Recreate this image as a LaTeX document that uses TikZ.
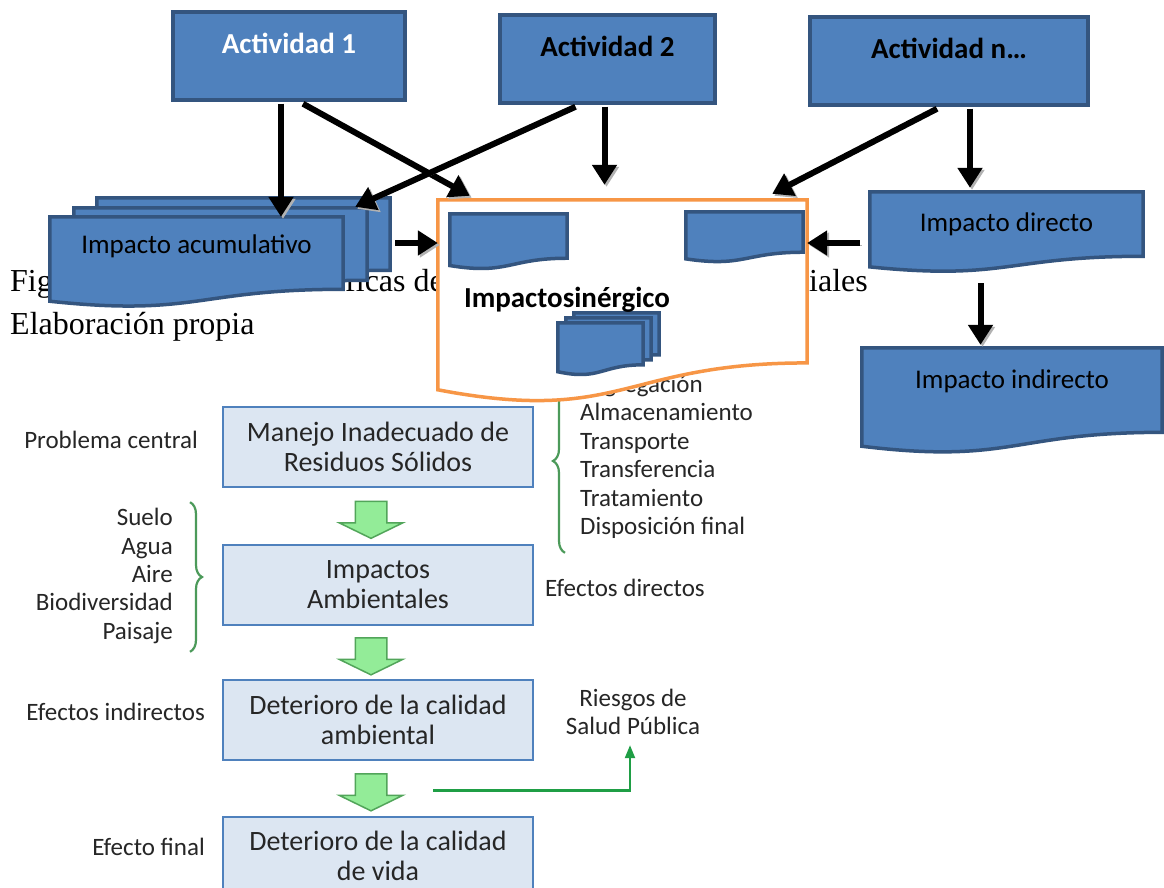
\documentclass[tikz,border=0pt]{standalone}
\usepackage{fontspec}
\setmainfont{Carlito}
\newfontfamily\capserif{Liberation Serif}
\usetikzlibrary{
  arrows.meta,
  positioning,
  calc,
  shapes.arrows,
  decorations.pathreplacing
}
\pgfdeclarelayer{bottom}
\pgfdeclarelayer{background}
\pgfsetlayers{bottom,background,main}
\definecolor{docblue}{HTML}{4F81BD}
\definecolor{docline}{HTML}{34557F}
\definecolor{synorange}{HTML}{F79646}
\definecolor{flowfill}{HTML}{DCE6F2}
\definecolor{flowline}{HTML}{4F81BD}
\definecolor{arrowgreen}{HTML}{93EC98}
\definecolor{arrowedge}{HTML}{52A55A}
\definecolor{bracegreen}{HTML}{4C9A5A}
\definecolor{riskgreen}{HTML}{1F9E45}
\definecolor{flowtext}{HTML}{262626}
\newcommand{\fsz}[2]{\fontsize{#1}{#2}\selectfont}
% wavy-bottom document outline drawn behind a node
\newcommand{\wavedoc}[2]{%
  \begin{pgfonlayer}{background}
  \draw[#1] (#2.north west) -- (#2.north east)
    -- ($(#2.south east)!0.198!(#2.north east)$)
    .. controls ($(#2.south)!0.198!(#2.north)$) and ($(#2.south)!-0.107!(#2.north)$)
    .. ($(#2.south west)!0.066!(#2.north west)$) -- cycle;
  \end{pgfonlayer}}

\begin{document}
\begin{tikzpicture}[
  x=1pt, y=-1pt,
  actbox/.style={draw=docline, line width=3.5pt, fill=docblue, minimum width=#1,
    inner sep=0pt, text height=42pt, text depth=46pt, font=\fsz{29}{34}\bfseries},
  docbox/.style={inner sep=0pt, minimum width=#1, font=\fsz{27}{32}},
  docfill/.style={draw=docline, line width=3.5pt, fill=docblue},
  synline/.style={draw=synorange, line width=3.5pt, fill=white},
  blkarrow/.style={line width=6pt, -{Triangle[length=20pt,width=24pt]},
    preaction={draw=black!30, transform canvas={xshift=2pt,yshift=-2pt}}},
  flowbox/.style={draw=flowline, line width=2pt, fill=flowfill, minimum width=310pt,
    minimum height=80pt, align=center, text=flowtext, font=\fsz{28}{30}},
  fatarrow/.style={single arrow, draw=arrowedge, fill=arrowgreen, line width=1.5pt,
    rotate=-90, minimum height=37pt, inner xsep=0pt, inner ysep=15pt,
    single arrow head extend=16pt, single arrow tip angle=128},
  flowlbl/.style={text=flowtext, inner sep=0pt, font=\fsz{25}{28.4}},
  bracestyle/.style={draw=bracegreen, line width=2.2pt, decorate,
    decoration={brace, amplitude=12pt}},
  riskarrow/.style={draw=riskgreen, line width=2.2pt, -{Triangle[length=13pt,width=10pt]}},
  caplbl/.style={anchor=base west, inner sep=0pt, font=\capserif\fsz{32}{36}},
]
  \useasboundingbox (0,0) rectangle (1164,888);

  \begin{pgfonlayer}{bottom}
  \fill[white] (0,0) rectangle (1164,888);

  % Caption behind the diagram
  \node[caplbl] (capfig) at (10,291) {Fig};
  \node[caplbl] (capmid) at (345,291) {ficas de};
  \node[caplbl] (capend) at (809,291) {iales};
  \node[caplbl] (capsrc) at (10,334) {Elaboración propia};

  % Problem tree
  \node[flowbox] (mrs) at (378,447) {Manejo Inadecuado de\\Residuos Sólidos};
  \node[flowbox, below=56pt of mrs] (ia) {Impactos\\Ambientales};
  \node[flowbox, below=53pt of ia] (dca) {Deterioro de la calidad\\ambiental};
  \node[flowbox, below=55pt of dca, minimum height=78pt] (dcv) {Deterioro de la calidad\\de vida};

  \node[fatarrow] (fa1) at ([xshift=-7pt]$(mrs.south)!0.5!(ia.north)$) {};
  \node[fatarrow] (fa2) at ([xshift=-7pt]$(ia.south)!0.5!(dca.north)$) {};
  \node[fatarrow] (fa3) at ([xshift=-7pt]$(dca.south)!0.5!(dcv.north)$) {};

  \node[flowlbl, anchor=east] (pc) at (198,440) {Problema central};
  \node[flowlbl, align=right, anchor=east] (media) at (173,576)
    {Suelo\\Agua\\Aire\\Biodiversidad\\Paisaje};
  \draw[bracestyle] ([xshift=17pt,yshift=6pt]media.north east)
    -- ([xshift=17pt,yshift=-8pt]media.south east);
  \node[flowlbl, align=left, anchor=west] (steps) at (580,457)
    {Segregación\\Almacenamiento\\Transporte\\Transferencia\\Tratamiento\\Disposición final};
  \draw[bracestyle] ([xshift=-15pt,yshift=-14pt]steps.south west)
    -- ([xshift=-15pt,yshift=6pt]steps.north west);

  \node[flowlbl, anchor=east] (efind) at (205,712) {Efectos indirectos};
  \node[flowlbl, anchor=east] (effin) at (205,847) {Efecto final};
  \node[flowlbl, anchor=west] (efdir) at (545,588) {Efectos directos};
  \node[flowlbl, align=center] (risk) at (633,712) {Riesgos de\\Salud Pública};
  \draw[riskarrow] ([xshift=62pt,yshift=-2pt]fa3.center) -| ([xshift=-3pt,yshift=-10pt]risk.south);
  \end{pgfonlayer}

  % Activities
  \node[actbox=232pt, text=white] (act1) at (289,56) {Actividad 1};
  \node[actbox=215pt, text=black] (act2) at (607.5,59) {Actividad 2};
  \node[actbox=278pt, text=black] (actn) at (949,61) {Actividad n…};

  % Cumulative impact (stacked)
  \node[docbox=293pt, minimum height=90pt] (acc3) at (243.5,243) {};
  \wavedoc{docfill}{acc3}
  \node[docbox=293pt, minimum height=90pt] (acc2) at (220.5,253) {};
  \wavedoc{docfill}{acc2}
  \node[docbox=293pt, text height=36pt, text depth=54pt] (acc) at (196.5,262) {Impacto acumulativo};
  \wavedoc{docfill}{acc}

  % Synergic impact
  \node[docbox=369pt, minimum height=203pt] (syn) at (622.5,301.5) {};
  \wavedoc{synline}{syn}
  \node[docbox=117pt, minimum height=55pt] (syna) at (508.5,241.5) {};
  \wavedoc{docfill}{syna}
  \node[docbox=117pt, minimum height=50pt] (synb) at (744.5,237) {};
  \wavedoc{docfill}{synb}
  \node[font=\fsz{29}{34}\bfseries, inner sep=0pt] (syntxt) at (567,300) {Impactosinérgico};
  \node[docbox=85pt, minimum height=52pt] (synst3) at (616.5,339) {};
  \wavedoc{docfill}{synst3}
  \node[docbox=85pt, minimum height=52pt] (synst2) at (608.5,344) {};
  \wavedoc{docfill}{synst2}
  \node[docbox=85pt, minimum height=52pt] (synst1) at (600.5,349) {};
  \wavedoc{docfill}{synst1}

  % Direct and indirect impact
  \node[docbox=273pt, text height=39pt, text depth=41pt] (dir) at (1006.5,232) {Impacto directo};
  \wavedoc{docfill}{dir}
  \node[docbox=300pt, text height=40pt, text depth=65pt] (ind) at (1012,400.5) {Impacto indirecto};
  \wavedoc{docfill}{ind}

  % Arrows
  \draw[blkarrow] ([xshift=-8pt,yshift=-2pt]act1.south) -- ([xshift=-8pt]act1.south |- acc.north);
  \draw[blkarrow] ([xshift=14pt,yshift=-2pt]act1.south) -- ([xshift=32pt,yshift=4pt]syn.north west);
  \draw[blkarrow] ([xshift=-32pt,yshift=-2pt]act2.south) -- ([xshift=-35pt,yshift=-9pt]acc3.north east);
  \draw[blkarrow] ([xshift=-3pt,yshift=-2pt]act2.south) -- ([xshift=-3pt,yshift=15pt]act2.south |- syn.north);
  \draw[blkarrow] ([xshift=-12pt,yshift=-2pt]actn.south) -- ([xshift=-35pt,yshift=6pt]syn.north east);
  \draw[blkarrow] ([xshift=21pt,yshift=-2pt]actn.south) -- ([xshift=21pt,yshift=4pt]actn.south |- dir.north);
  \draw[blkarrow] ([xshift=5pt]acc3.east) -- (acc3.east -| syn.west);
  \draw[blkarrow] ([xshift=-10pt,yshift=-11pt]dir.west) -- ([yshift=-11pt]dir.west -| syn.east);
  \draw[blkarrow] ([xshift=-26pt,yshift=-11pt]dir.south) -- ([xshift=-26pt,yshift=3pt]dir.south |- ind.north);
\end{tikzpicture}
\end{document}
